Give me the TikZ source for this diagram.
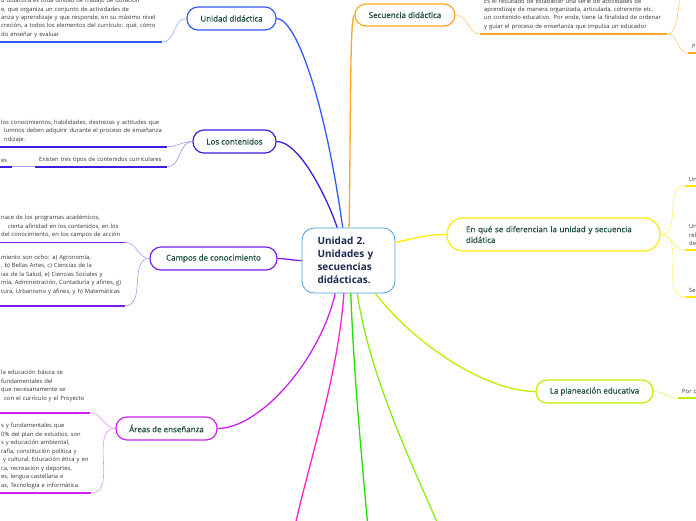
\documentclass[tikz,border=0pt]{standalone}
\usepackage{fontspec}
\setmainfont{Open Sans}
\newfontfamily\topicfont[FakeBold=0.5]{Open Sans}
\usepackage{xcolor}
\usepackage{tikz}
\usetikzlibrary{positioning}
\definecolor{rootblue}{HTML}{4A9FD8}
\definecolor{rootink}{HTML}{1B2A4E}
\definecolor{topicink}{HTML}{1D4D3D}
\definecolor{leafink}{HTML}{333333}
\definecolor{cUnidad}{HTML}{2F5BFF}
\definecolor{cContenidos}{HTML}{3A1FE0}
\definecolor{cCampos}{HTML}{7B1FF0}
\definecolor{cAreas}{HTML}{CC22EE}
\definecolor{cPink}{HTML}{FF22CC}
\definecolor{cGreen}{HTML}{22E000}
\definecolor{cLime}{HTML}{88EE11}
\definecolor{cPlan}{HTML}{BBF000}
\definecolor{cDifer}{HTML}{FFEA00}
\definecolor{cSecuencia}{HTML}{FFA520}
\tikzstyle{branch} = [line width=1.3pt]
\tikzstyle{twig} = [line width=0.6pt]

\begin{document}
\begin{tikzpicture}[x=1pt, y=-1pt,
    rootbox/.style={draw=rootblue, line width=0.8pt, rounded corners=12pt, fill=white, minimum width=93pt, minimum height=65pt, text width=62pt, align=left, inner sep=0pt, text=rootink, font=\fontsize{10}{13}\selectfont\bfseries},
    topicbox/.style={draw=#1, line width=1.2pt, rounded corners=11pt, fill=white, minimum height=23pt, inner sep=0pt, text=topicink, font=\topicfont\fontsize{8}{10.7}\selectfont},
    leafbox/.style={anchor=south west, align=left, inner xsep=4pt, inner ysep=4pt, text=leafink, font=\fontsize{5.85}{8.45}\selectfont},
    uline/.style={line width=1.6pt, draw=#1}
]
\useasboundingbox (0,0) rectangle (696,520);
\clip (0,0) rectangle (696,520);

\node[rootbox] (root) at (348.5,260.5) {Unidad 2.\\Unidades y\\secuencias\\didácticas.};

\node[topicbox=cUnidad, minimum width=89pt] (unidad) at (231.5,18.5) {Unidad didáctica};
\node[topicbox=cContenidos, minimum width=83pt] (contenidos) at (234.5,141.5) {Los contenidos};
\node[topicbox=cCampos, minimum width=127pt] (campos) at (213.5,258.5) {Campos de conocimiento};
\node[topicbox=cAreas, minimum width=101pt] (areas) at (166.5,428.5) {Áreas de enseñanza};
\node[topicbox=cSecuencia, minimum width=100pt, minimum height=22pt] (secuencia) at (405,15) {Secuencia didáctica};
\node[topicbox=cDifer, rounded corners=16pt, minimum width=213pt, minimum height=33pt, text width=175pt, align=left] (difer) at (553.5,234.5) {En qué se diferencian la unidad y secuencia\\didática};
\node[topicbox=cPlan, minimum width=117pt] (planeacion) at (594.5,391.5) {La planeación educativa};

\coordinate (pinkend) at (292,540);
\coordinate (greenend) at (369,540);
\coordinate (limeend) at (447,545);
\coordinate (secup) at (680,-6);

\node[leafbox, text width=157pt] (leafA) at (-3,42) {\mbox{d didáctica es toda unidad de trabajo de duración}\\\mbox{e, que organiza un conjunto de actividades de}\\\mbox{anza y aprendizaje y que responde, en su máximo nivel}\\\mbox{creción, a todos los elementos del currículo: qué, cómo}\\\mbox{do enseñar y evaluar}};
\node[leafbox, text width=162pt] (leafB1) at (-3,146.7) {\mbox{los conocimientos, habilidades, destrezas y actitudes que}\\\mbox{\hspace{3pt}lumnos deben adquirir durante el proceso de enseñanza}\\\mbox{\hspace{3pt}ndizaje.}};
\node[leafbox, text width=124pt] (leafB2) at (35,166.7) {\mbox{Existen tres tipos de contenidos curriculares}};
\node[leafbox, text width=7pt] (leafB3) at (-3,166.7) {\mbox{es}};
\node[leafbox, text width=120pt] (leafC1) at (-3,242.3) {\mbox{nace de los programas académicos,}\\\mbox{\hspace{7pt}cierta afinidad en los contenidos, en los}\\\mbox{del conocimiento, en los campos de acción}};
\node[leafbox, text width=120pt] (leafC2) at (-3,305.7) {\mbox{miento son ocho: a) Agronomía,}\\\mbox{, b) Bellas Artes, c) Ciencias de la}\\\mbox{ias de la Salud, e) Ciencias Sociales y}\\\mbox{mía, Administración, Contaduría y afines, g)}\\\mbox{tura, Urbanismo y afines, y h) Matemáticas}\\\mbox{}};
\node[leafbox, text width=85pt] (leafD1) at (-3,412.7) {\mbox{la educación básica se}\\\mbox{fundamentales del}\\\mbox{que necesariamente se}\\\mbox{\hspace{3pt}con el currículo y el Proyecto}\\\mbox{}};
\node[leafbox, text width=86pt] (leafD2) at (-3,492.7) {\mbox{s y fundamentales que}\\\mbox{0\% del plan de estudios, son}\\\mbox{s y educación ambiental,}\\\mbox{rafía, constitución política y}\\\mbox{\hspace{2pt}y cultural, Educación ética y en}\\\mbox{ca, recreación y deportes,}\\\mbox{es, lengua castellana e}\\\mbox{as, Tecnología e informática.}};
\node[leafbox, text width=179pt] (leafE1) at (480,34) {\mbox{Es el resultado de establecer una serie de actividades de}\\\mbox{aprendizaje de manera organizada, articulada, coherente etc.}\\\mbox{un contenido educativo. Por ende, tiene la finalidad de ordenar}\\\mbox{y guiar el proceso de enseñanza que impulsa un educador}};
\node[leafbox, text width=30pt] (leafE2) at (688,53) {P};
\node[leafbox, text width=30pt] (leafF1) at (685,186) {Un};
\node[leafbox, text width=30pt] (leafF2) at (685,250) {Un\\rel\\de};
\node[leafbox, text width=30pt] (leafF3) at (685,297) {Se};
\node[leafbox, text width=30pt] (leafG) at (678,398) {Por c};

\draw[uline=cUnidad] (leafA.south west) -- (leafA.south east);
\draw[uline=cContenidos] (leafB1.south west) -- (leafB1.south east);
\draw[uline=cContenidos] (leafB2.south west) -- (leafB2.south east);
\draw[uline=cContenidos] (leafB3.south west) -- (leafB3.south east);
\draw[uline=cCampos] (leafC1.south west) -- (leafC1.south east);
\draw[uline=cCampos] (leafC2.south west) -- (leafC2.south east);
\draw[uline=cAreas] (leafD1.south west) -- (leafD1.south east);
\draw[uline=cAreas] (leafD2.south west) -- (leafD2.south east);
\draw[uline=cSecuencia] (leafE1.south west) -- (leafE1.south east);
\draw[uline=cSecuencia] (leafE2.south west) -- (leafE2.south east);
\draw[uline=cDifer] (leafF1.south west) -- (leafF1.south east);
\draw[uline=cDifer] (leafF2.south west) -- (leafF2.south east);
\draw[uline=cDifer] (leafF3.south west) -- (leafF3.south east);
\draw[uline=cPlan] (leafG.south west) -- (leafG.south east);

\draw[branch, cUnidad] (root.100) .. controls (325,100) and (296,18.5) .. (unidad.east);
\draw[branch, cContenidos] (root.109) .. controls (328,200) and (300,141.5) .. (contenidos.east);
\draw[branch, cCampos] (root.west) to[out=180, in=0] (campos.east);
\draw[branch, cAreas] (root.248) .. controls (320,360) and (260,428.5) .. (areas.east);
\draw[branch, cPink] (root.262) .. controls (338,380) and (306,470) .. (pinkend);
\draw[branch, cGreen] (root.274) .. controls (354,380) and (362,460) .. (greenend);
\draw[branch, cLime] (root.285) .. controls (370,380) and (415,470) .. (limeend);
\draw[branch, cPlan] (root.309) .. controls (420,350) and (490,391.5) .. (planeacion.west);
\draw[branch, cDifer] (root.21) .. controls (420,237) and (428,234.5) .. (difer.west);
\draw[branch, cSecuencia] (root.89) .. controls (351,100) and (350,15) .. (secuencia.west);

\draw[twig, cUnidad!50] (leafA.south east) to[out=0, in=180] (unidad.west);
\draw[twig, cContenidos!50] (leafB1.south east) to[out=0, in=180] (contenidos.west);
\draw[twig, cContenidos!50] (leafB2.south east) to[out=0, in=180] (contenidos.west);
\draw[twig, cContenidos!40] (leafB3.south east) -- (leafB2.south west);
\draw[twig, cCampos!50] (leafC1.south east) to[out=0, in=180] (campos.west);
\draw[twig, cCampos!50] (leafC2.south east) to[out=0, in=180] (campos.west);
\draw[twig, cAreas!50] (leafD1.south east) to[out=0, in=180] (areas.west);
\draw[twig, cAreas!50] (leafD2.south east) to[out=0, in=180] (areas.west);
\draw[twig, cSecuencia!60] (secuencia.east) to[out=0, in=180] (leafE1.south west);
\draw[twig, cSecuencia!60] (leafE1.south east) to[out=0, in=180] (leafE2.south west);
\draw[twig, cSecuencia!60] (leafE1.south east) .. controls (676,34) and (678,15) .. (secup);
\draw[twig, cDifer!60] (difer.east) to[out=0, in=180] (leafF1.south west);
\draw[twig, cDifer!60] (difer.east) to[out=0, in=180] (leafF2.south west);
\draw[twig, cDifer!60] (difer.east) to[out=0, in=180] (leafF3.south west);
\draw[twig, cPlan!60] (planeacion.east) to[out=0, in=180] (leafG.south west);
\end{tikzpicture}
\end{document}
